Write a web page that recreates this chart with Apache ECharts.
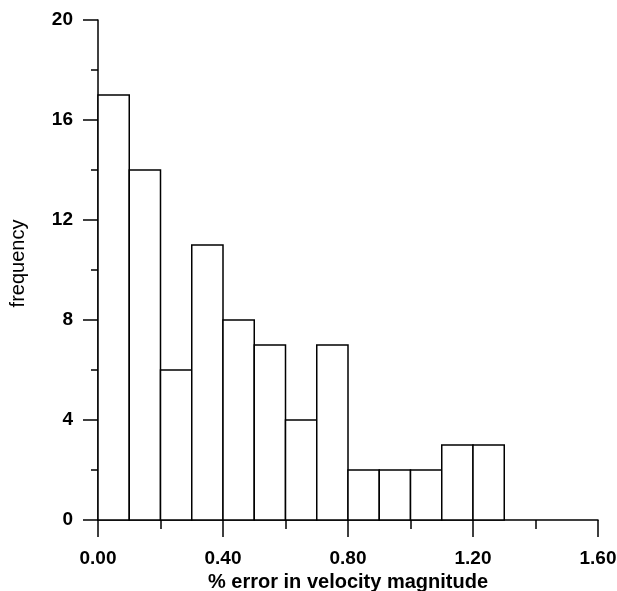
<!DOCTYPE html>
<html>
<head>
<meta charset="utf-8">
<script src="https://cdn.jsdelivr.net/npm/echarts@6/dist/echarts.min.js"></script>
<style>
  html, body { margin: 0; padding: 0; background: #fff; }
  #chart { width: 617px; height: 591px; }
</style>
</head>
<body>
<div id="chart"></div>
<script>
// bin edges (lower) and counts
var binStart = [0.0, 0.1, 0.2, 0.3, 0.4, 0.5, 0.6, 0.7, 0.8, 0.9, 1.0, 1.1, 1.2];
var binWidth = 0.1;
var counts = [17, 14, 6, 11, 8, 7, 4, 7, 2, 2, 2, 3, 3];

var xTitle = '% error in velocity magnitude';
var yTitle = 'frequency';

var data = binStart.map(function (s, i) { return [s, s + binWidth, counts[i]]; });

var myChart = echarts.init(document.getElementById('chart'));

var option = {
    animation: false,
    backgroundColor: '#ffffff',
    grid: {
        left: 98,
        right: 19,
        top: 20,
        bottom: 71,
        containLabel: false,
        outerBoundsMode: 'none'
    },
    xAxis: {
        type: 'value',
        min: 0,
        max: 1.6,
        interval: 0.4,
        name: xTitle,
        nameLocation: 'middle',
        nameGap: 49,
        nameTextStyle: {
            color: '#000',
            fontSize: 20,
            fontWeight: 'bold',
            fontFamily: 'Liberation Sans, Arial, sans-serif'
        },
        axisLine: { show: true, onZero: false, lineStyle: { color: '#000', width: 1.5 } },
        axisTick: { show: true, inside: false, length: 17, lineStyle: { color: '#000', width: 1.5 } },
        minorTick: { show: true, splitNumber: 2, length: 9, lineStyle: { color: '#000', width: 1.5 } },
        splitLine: { show: false },
        axisLabel: {
            margin: 29,
            color: '#000',
            fontSize: 19,
            fontWeight: 'bold',
            fontFamily: 'Liberation Sans, Arial, sans-serif',
            formatter: function (v) { return v.toFixed(2); }
        }
    },
    yAxis: {
        type: 'value',
        min: 0,
        max: 20,
        interval: 4,
        name: yTitle,
        nameLocation: 'middle',
        nameGap: 70,
        nameRotate: 90,
        nameTextStyle: {
            color: '#000',
            fontSize: 20,
            padding: [0, 0, 0, 13],
            fontFamily: 'Liberation Sans, Arial, sans-serif'
        },
        axisLine: { show: true, onZero: false, lineStyle: { color: '#000', width: 1.5 } },
        axisTick: { show: true, inside: false, length: 15, lineStyle: { color: '#000', width: 1.5 } },
        minorTick: { show: true, splitNumber: 2, length: 7, lineStyle: { color: '#000', width: 1.5 } },
        splitLine: { show: false },
        axisLabel: {
            margin: 25,
            color: '#000',
            fontSize: 19,
            fontWeight: 'bold',
            fontFamily: 'Liberation Sans, Arial, sans-serif'
        }
    },
    series: [
        {
            type: 'custom',
            data: data,
            encode: { x: [0, 1], y: 2 },
            renderItem: function (params, api) {
                var p0 = api.coord([api.value(0), api.value(2)]);
                var p1 = api.coord([api.value(1), 0]);
                return {
                    type: 'rect',
                    shape: { x: p0[0], y: p0[1], width: p1[0] - p0[0], height: p1[1] - p0[1] },
                    style: { fill: '#ffffff', stroke: '#000000', lineWidth: 1.5 }
                };
            }
        }
    ]
};

myChart.setOption(option);
</script>
</body>
</html>
